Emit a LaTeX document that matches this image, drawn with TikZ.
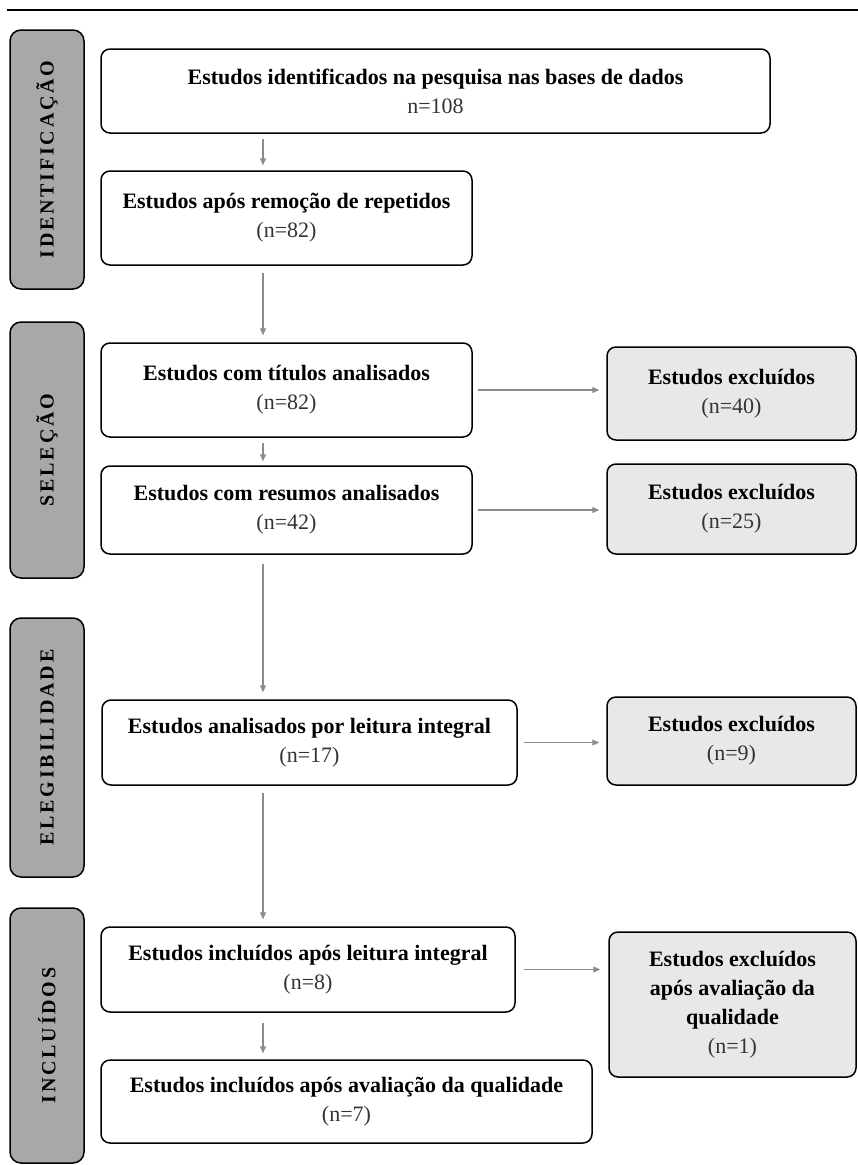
\documentclass[tikz,border=0pt]{standalone}
\usepackage{fontspec}
\setmainfont{Liberation Serif}
\newfontfamily\sidefont[LetterSpace=14]{Liberation Serif}
\usetikzlibrary{arrows.meta}
\definecolor{sidegray}{HTML}{A8A8A8}
\definecolor{exclgray}{HTML}{E8E8E8}
\definecolor{arrgray}{HTML}{8C8C8C}
\tikzset{
  box/.style={draw=black, line width=1.5pt, rounded corners=9pt, fill=white,
    align=center, inner sep=0pt, font=\fontsize{22}{29}\selectfont},
  exclbox/.style={box, fill=exclgray},
  sidebox/.style={draw=black, line width=1.5pt, rounded corners=11pt, fill=sidegray,
    minimum width=74pt, inner sep=0pt},
  sidelabel/.style={rotate=90, font=\sidefont\bfseries\fontsize{20}{20}\selectfont},
  flow/.style={draw=arrgray, line width=1.1pt, -{Triangle[length=7pt,width=6pt]}}
}
\newcommand{\nl}[1]{\\{\mdseries\color{black!80}#1}}
\begin{document}
\begin{tikzpicture}[x=1pt,y=-1pt]
\useasboundingbox (0,0) rectangle (858,1165);
\fill[white] (0,0) rectangle (858,1165);
\coordinate (topl) at (7,10);
\coordinate (topr) at (858,10);
\draw[line width=2pt] (topl) -- (topr);

% sidebars
\node[sidebox, minimum height=259pt] (s1) at (47,159.5) {};
\node[sidelabel] at (s1) {IDENTIFICAÇÃO};
\node[sidebox, minimum height=256pt] (s2) at (47,450) {};
\node[sidelabel] at (s2) {SELEÇÃO};
\node[sidebox, minimum height=259pt] (s3) at (47,747.5) {};
\node[sidelabel] at (s3) {ELEGIBILIDADE};
\node[sidebox, minimum height=255pt] (s4) at (47,1035.5) {};
\node[sidelabel] at (s4) {INCLUÍDOS};

% main boxes
\node[box, minimum width=669pt, minimum height=84pt] (b1) at (435.5,91)
  {\bfseries Estudos identificados na pesquisa nas bases de dados\nl{n=108}};
\node[box, minimum width=371pt, minimum height=94pt] (b2) at (286.5,218)
  {\bfseries Estudos após remoção de repetidos\nl{(n=82)}};
\node[box, minimum width=371pt, minimum height=94pt] (b3) at (286.5,390)
  {\bfseries Estudos com títulos analisados\nl{(n=82)}};
\node[box, minimum width=371pt, minimum height=88pt] (b4) at (286.5,510)
  {\bfseries Estudos com resumos analisados\nl{(n=42)}};
\node[box, minimum width=415pt, minimum height=85pt] (b5) at (309.5,742.5)
  {\bfseries Estudos analisados por leitura integral\nl{(n=17)}};
\node[box, minimum width=414pt, minimum height=85pt] (b6) at (308,969.5)
  {\bfseries Estudos incluídos após leitura integral\nl{(n=8)}};
\node[box, minimum width=491pt, minimum height=83pt] (b7) at (346.5,1101.5)
  {\bfseries Estudos incluídos após avaliação da qualidade\nl{(n=7)}};

% excluded boxes
\node[exclbox, minimum width=249pt, minimum height=93pt] (e1) at (731.5,393.5)
  {\bfseries Estudos excluídos\nl{(n=40)}};
\node[exclbox, minimum width=249pt, minimum height=90pt] (e2) at (731.5,509)
  {\bfseries Estudos excluídos\nl{(n=25)}};
\node[exclbox, minimum width=249pt, minimum height=88pt] (e3) at (731.5,741)
  {\bfseries Estudos excluídos\nl{(n=9)}};
\node[exclbox, minimum width=247pt, minimum height=145pt] (e4) at (732.5,1004.5)
  {\bfseries Estudos excluídos\\\bfseries após avaliação da\\\bfseries qualidade\nl{(n=1)}};

% vertical flow
\coordinate (col) at (263,0);
\draw[flow, shorten <=5pt, shorten >=5pt] (b1.south -| col) -- (b2.north -| col);
\draw[flow, shorten <=7pt, shorten >=7pt] (b2.south -| col) -- (b3.north -| col);
\draw[flow, shorten <=5pt, shorten >=4pt] (b3.south -| col) -- (b4.north -| col);
\draw[flow, shorten <=9pt, shorten >=7pt] (b4.south -| col) -- (b5.north -| col);
\draw[flow, shorten <=7pt, shorten >=7pt] (b5.south -| col) -- (b6.north -| col);
\draw[flow, shorten <=10pt, shorten >=6pt] (b6.south -| col) -- (b7.north -| col);

% horizontal flow
\draw[flow, shorten <=5pt, shorten >=7pt] (b3.east) -- (b3.east -| e1.west);
\draw[flow, shorten <=5pt, shorten >=7pt] (b4.east) -- (b4.east -| e2.west);
\draw[flow, shorten <=6pt, shorten >=7pt] (b5.east) -- (b5.east -| e3.west);
\draw[flow, shorten <=8pt, shorten >=8pt] (b6.east) -- (b6.east -| e4.west);
\end{tikzpicture}
\end{document}
